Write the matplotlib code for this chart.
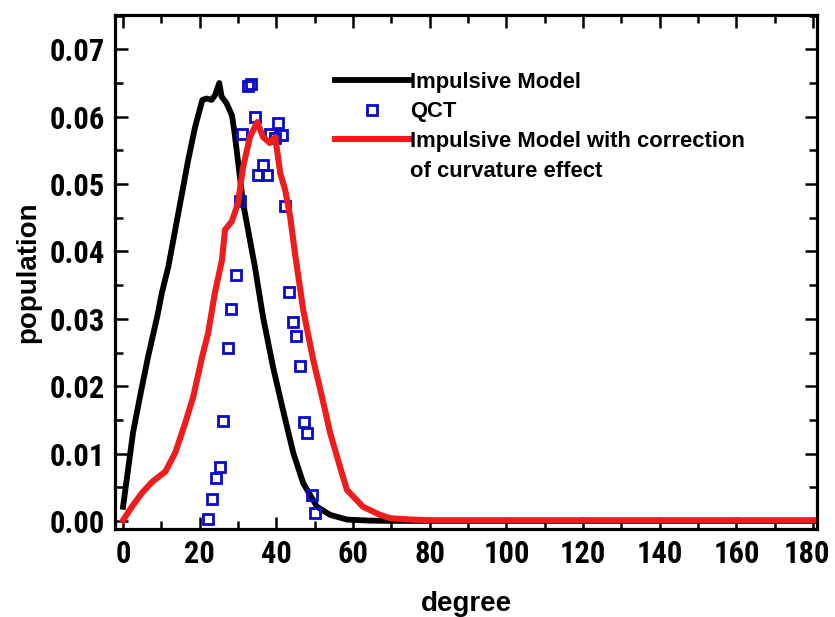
import matplotlib
matplotlib.use("Agg")
import matplotlib.pyplot as plt
from matplotlib.lines import Line2D
from matplotlib.ticker import MultipleLocator
from matplotlib.transforms import ScaledTranslation
from matplotlib import font_manager

# ---- data ----
imp_deg = [0, 1.3, 2.6, 4.4, 6.5, 8.9, 10.1, 11.8, 13.6, 15.4, 17.0, 18.8, 20.7, 21.8,
           23.1, 24.0, 25.1, 25.7, 27.0, 28.4, 29.0, 31.3, 34.4, 36.5, 39.1, 41.7,
           44.4, 47.0, 50.6, 54.0, 58.4, 64.0, 70.0, 80.0, 180.0]
imp_pop = [0.0021, 0.0076, 0.0131, 0.0184, 0.0243, 0.0303, 0.0338, 0.0377, 0.0432,
           0.0487, 0.0536, 0.0585, 0.0625, 0.0627, 0.0625, 0.0632, 0.0650, 0.0630,
           0.0620, 0.0602, 0.0580, 0.0472, 0.0377, 0.0303, 0.0229, 0.0165, 0.0101,
           0.0056, 0.0021, 0.0009, 0.0002, 0.00005, 0.0, 0.0, 0.0]

qct_deg = [22.2, 23.2, 24.2, 25.3, 26.1, 27.4, 28.2, 29.5, 30.5, 30.9, 32.6, 33.5,
           34.4, 35.2, 36.5, 37.6, 38.3, 39.6, 40.4, 41.5, 42.3, 43.3, 44.4, 45.1,
           46.2, 47.2, 48.0, 49.3, 50.1]
qct_pop = [0.0003, 0.0032, 0.0063, 0.0080, 0.0148, 0.0256, 0.0315, 0.0365, 0.0475,
           0.0574, 0.0646, 0.0648, 0.0600, 0.0514, 0.0529, 0.0514, 0.0575, 0.0568,
           0.0590, 0.0573, 0.0467, 0.0340, 0.0295, 0.0274, 0.0230, 0.0147, 0.0131,
           0.0039, 0.0012]

corr_deg = [0, 2.3, 5.0, 7.6, 11.0, 13.6, 16.2, 18.3, 20.6, 22.2, 24.0, 25.8, 26.6,
            28.4, 30.0, 31.3, 33.1, 35.0, 36.5, 38.3, 39.7, 41.0, 42.3, 43.6, 44.9,
            47.0, 49.6, 51.9, 54.0, 56.6, 58.4, 62.6, 67.0, 69.7, 75.0, 80.0, 180.0]
corr_pop = [0.0001, 0.0021, 0.0042, 0.0058, 0.0073, 0.0101, 0.0145, 0.0184, 0.0243,
            0.0279, 0.0340, 0.0387, 0.0432, 0.0445, 0.0472, 0.0525, 0.0570, 0.0592,
            0.0570, 0.0561, 0.0570, 0.0516, 0.0491, 0.0451, 0.0395, 0.0313, 0.0239,
            0.0184, 0.0131, 0.0080, 0.0046, 0.0021, 0.0009, 0.0004, 0.0002, 0.0001,
            0.0001]

x_ticks = [0, 20, 40, 60, 80, 100, 120, 140, 160, 180]
y_ticks = [0.00, 0.01, 0.02, 0.03, 0.04, 0.05, 0.06, 0.07]

label_imp = "Impulsive Model"
label_qct = "QCT"
label_corr1 = "Impulsive Model with correction"
label_corr2 = "of curvature effect"

# ---- fonts ----
available = {f.name for f in font_manager.fontManager.ttflist}
narrow = None
for cand in ["Liberation Sans Narrow", "Arial Narrow", "DejaVu Sans Condensed",
             "Roboto Condensed", "Open Sans Condensed"]:
    if cand in available:
        narrow = cand
        break
if narrow is None:
    tick_family, tick_size = ["Liberation Sans", "DejaVu Sans"], 19
else:
    tick_family, tick_size = [narrow, "DejaVu Sans"], 22

# ---- figure ----
fig = plt.figure(figsize=(8.35, 6.17), dpi=100)
ax = fig.add_axes([115 / 835, 1 - 529 / 617, 702 / 835, 514 / 617])

red = "#EE1C1C"
blue = "#0A0AC8"

ax.plot(imp_deg, imp_pop, color="black", lw=4.2, zorder=2, solid_joinstyle="round")
ax.plot(qct_deg, qct_pop, ls="none", marker="s", ms=7.3, mfc="none", mec=blue,
        mew=2.0, zorder=3)
ax.plot(corr_deg, corr_pop, color=red, lw=4.4, zorder=4, solid_joinstyle="round")

ax.set_xlim(-2.1, 181.0)
ax.set_ylim(-0.0012, 0.0751)
ax.set_xticks(x_ticks)
ax.set_yticks(y_ticks)
ax.xaxis.set_minor_locator(MultipleLocator(10))
ax.yaxis.set_minor_locator(MultipleLocator(0.005))
ax.set_yticklabels([f"{v:.2f}" for v in y_ticks])

for s in ax.spines.values():
    s.set_linewidth(2.3)

ax.tick_params(which="both", direction="in", top=True, right=True, width=1.8)
ax.tick_params(which="major", length=9, pad=7)
ax.tick_params(which="minor", length=5.5)

for lab in ax.get_xticklabels() + ax.get_yticklabels():
    lab.set_fontfamily(tick_family)
    lab.set_fontweight("bold")
    lab.set_fontsize(tick_size)

# nudge the last x tick label a little to the left so it stays inside the figure
last = ax.xaxis.get_major_ticks()[-1].label1
last.set_transform(last.get_transform() + ScaledTranslation(-6 / 100, 0, fig.dpi_scale_trans))

label_font = dict(family=["Liberation Sans", "DejaVu Sans"], weight="bold", size=20)
ax.set_xlabel("degree", fontdict=label_font, labelpad=16)
ax.set_ylabel("population", fontdict=label_font, labelpad=6)

handles = [
    Line2D([], [], color="black", lw=4.2),
    Line2D([], [], ls="none", marker="s", ms=7.3, mfc="none", mec=blue, mew=2.0),
    Line2D([], [], color=red, lw=4.4),
    Line2D([], [], ls="none"),
]
labels = [label_imp, label_qct, label_corr1, label_corr2]
leg = ax.legend(handles, labels, loc="upper left", bbox_to_anchor=(0.313, 0.89),
                frameon=False, borderpad=0, borderaxespad=0, handlelength=3.4,
                handletextpad=0.05, labelspacing=0.40,
                prop=dict(family=["Liberation Sans", "DejaVu Sans"], weight="bold",
                          size=15.8))

fig.savefig("out.png", dpi=100)
